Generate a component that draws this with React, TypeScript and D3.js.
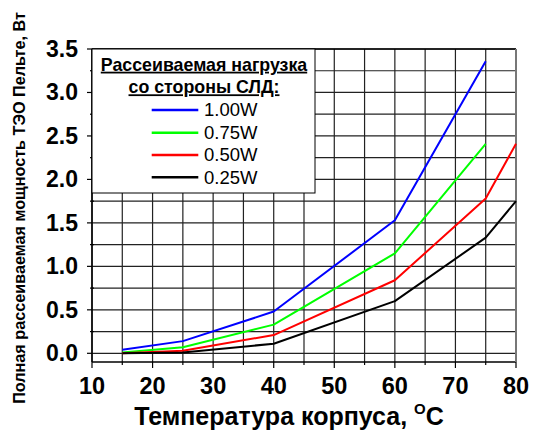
import React from 'react';
import * as d3 from 'd3';

// Temperatures (°C) and dissipated power (W) per LED load
const temps = [15, 25, 40, 60, 75, 80];
const load100 = [0.04, 0.14, 0.48, 1.53, 3.36];
const load075 = [0.01, 0.07, 0.33, 1.15, 2.41];
const load050 = [0.0, 0.03, 0.21, 0.84, 1.78, 2.41];
const load025 = [0.0, 0.01, 0.11, 0.6, 1.33, 1.75];

const seriesNames = ['1.00W', '0.75W', '0.50W', '0.25W'];
const seriesColors = ['#0000ff', '#00ff00', '#ff0000', '#000000'];
const seriesValues = [load100, load075, load050, load025];

const xTicks = [10, 20, 30, 40, 50, 60, 70, 80];
const yTicks = [0, 0.5, 1.0, 1.5, 2.0, 2.5, 3.0, 3.5];

const FONT = '"Liberation Sans", Arial, sans-serif';

const App = () => {
  const width = 536;
  const height = 430;
  const margin = { top: 49, right: 20, bottom: 68, left: 92 };

  const x = d3.scaleLinear().domain([10, 80]).range([margin.left, width - margin.right]);
  const y = d3.scaleLinear().domain([-0.1, 3.5]).range([height - margin.bottom, margin.top]);

  const xGrid = d3.range(10, 80.01, 5);
  const yGrid = d3.range(0, 3.51, 0.25);

  const line = d3.line<number>()
    .x((d, i) => x(temps[i]))
    .y(d => y(d));

  const x0 = x.range()[0], x1 = x.range()[1];
  const y0 = y.range()[0], y1 = y.range()[1];

  // legend box
  const lg = { x: 92, y: 49, w: 223, h: 144 };
  const legendY = [110, 132.7, 155, 177.3];

  return (
    <svg width={width} height={height} style={{ position: 'absolute', left: 0, top: 0, background: '#fff' }}
      fontFamily={FONT}>
      {/* grid */}
      {xGrid.map(v => (
        <line key={'gx' + v} x1={x(v)} x2={x(v)} y1={y1} y2={y0} stroke="#222" strokeWidth={1.2} />
      ))}
      {yGrid.map(v => (
        <line key={'gy' + v} x1={x0} x2={x1} y1={y(v)} y2={y(v)} stroke="#222" strokeWidth={1.2} />
      ))}

      {/* frame */}
      <line x1={x0} x2={x1} y1={y1} y2={y1} stroke="#000" strokeWidth={1.5} />
      <line x1={x0} x2={x1} y1={y0} y2={y0} stroke="#000" strokeWidth={1.5} />
      <line x1={x0} x2={x0} y1={y1} y2={y0} stroke="#000" strokeWidth={1.5} />
      <line x1={x1} x2={x1} y1={y1} y2={y0} stroke="#777" strokeWidth={2} />

      {/* y ticks */}
      {yGrid.map(v => {
        const major = Math.abs(v * 2 - Math.round(v * 2)) < 1e-6;
        return (
          <line key={'ty' + v} x1={major ? x0 - 5 : x0 - 2} x2={major ? x0 : x0 + 2}
            y1={y(v)} y2={y(v)} stroke="#000" strokeWidth={1.2} />
        );
      })}
      {/* x ticks */}
      {xGrid.map(v => {
        const major = v % 10 === 0;
        return (
          <line key={'tx' + v} x1={x(v)} x2={x(v)} y1={y0} y2={y0 + (major ? 6 : 3)}
            stroke="#000" strokeWidth={1.2} />
        );
      })}

      {/* series */}
      {seriesValues.map((vals, i) => (
        <path key={seriesNames[i]} d={line(vals) || ''} fill="none" stroke={seriesColors[i]}
          strokeWidth={2} strokeLinejoin="round" />
      ))}

      {/* tick labels */}
      {yTicks.map(v => (
        <text key={'ly' + v} x={x0 - 14} y={y(v) + 8} textAnchor="end"
          fontSize={23} fontWeight="bold">{v.toFixed(1)}</text>
      ))}
      {xTicks.map(v => (
        <text key={'lx' + v} x={x(v)} y={394} textAnchor="middle" fontSize={23.5} fontWeight="bold">{v}</text>
      ))}

      {/* legend */}
      <rect x={lg.x} y={lg.y} width={lg.w} height={lg.h} fill="#fff" stroke="#000" strokeWidth={1} />
      <text x={204} y={70.7} textAnchor="middle" fontSize={17.8} fontWeight="bold" textDecoration="underline">
        Рассеиваемая нагрузка
      </text>
      <text x={204} y={93.3} textAnchor="middle" fontSize={17.8} fontWeight="bold" textDecoration="underline">
        со стороны СЛД:
      </text>
      {seriesNames.map((name, i) => (
        <g key={'lg' + name}>
          <line x1={151.7} x2={198.3} y1={legendY[i]} y2={legendY[i]} stroke={seriesColors[i]} strokeWidth={2.5} />
          <text x={204} y={legendY[i] + 6.3} fontSize={18.5}>{name}</text>
        </g>
      ))}

      {/* axis titles */}
      <text x={289} y={425} textAnchor="middle" fontSize={25} fontWeight="bold">
        Температура корпуса, <tspan fontSize={15} dy={-11}>O</tspan><tspan dy={11}>C</tspan>
      </text>
      <text transform="translate(25, 208) rotate(-90)" textAnchor="middle" fontSize={16.2} fontWeight="bold">
        Полная рассеиваемая мощность ТЭО Пельте, Вт
      </text>
    </svg>
  );
};

export default App;
